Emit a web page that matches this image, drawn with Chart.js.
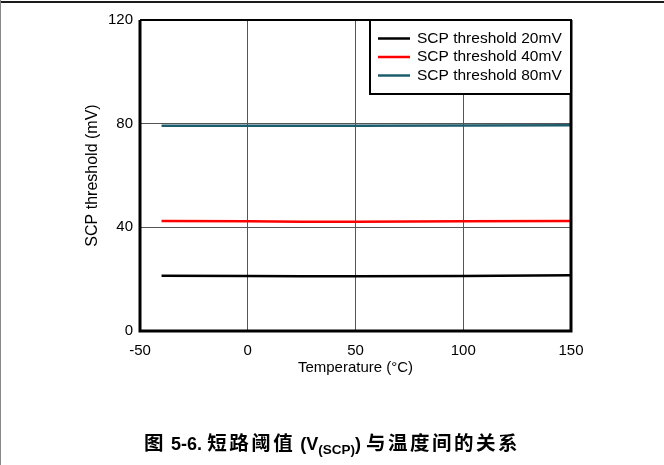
<!DOCTYPE html>
<html>
<head>
<meta charset="utf-8">
<script src="https://cdn.jsdelivr.net/npm/chart.js@4"></script>
<style>
  body { margin: 0; background: #fff; }
  #wrap { position: relative; width: 664px; height: 465px; overflow: hidden; }
  #topline { position: absolute; left: 0; top: 1px; width: 664px; height: 2px; background: #1a1a1a; }
  #leftline { position: absolute; left: 0; top: 0; width: 1px; height: 465px; background: #888; }
  #caption { position: absolute; left: 0; top: 427px; width: 664px; text-align: center; white-space: nowrap;
    font: bold 18px "Liberation Sans", Arial, "Noto Sans CJK SC", sans-serif; color: #000; }
  #caption .c { font-size: 19.5px; letter-spacing: 2.5px; }
  #caption sub { font-size: 13.5px; vertical-align: -4px; }
</style>
</head>
<body>
<div id="wrap">
  <canvas id="myChart" width="664" height="465"></canvas>
  <div id="topline"></div>
  <div id="leftline"></div>
  <div id="caption"><span class="c">图</span> 5-6. <span class="c">短路阈值</span> (V<sub>(SCP)</sub>) <span class="c">与温度间的关系</span></div>
</div>
<script>
// temperature (°C) and measured SCP threshold (mV)
var temps = [-40, 0, 25, 50, 100, 150];
var scp20 = [21.3, 21.2, 21.1, 21.1, 21.2, 21.5];
var scp40 = [42.4, 42.3, 42.2, 42.2, 42.3, 42.4];
var scp80 = [79.2, 79.2, 79.2, 79.2, 79.3, 79.4];
var labels = ['SCP threshold 20mV', 'SCP threshold 40mV', 'SCP threshold 80mV'];
var colors = ['#000000', '#ff0000', '#1d5c6c'];

function pts(ys) {
  return temps.map(function (t, i) { return { x: t, y: ys[i] }; });
}

var font = { family: '"Liberation Sans", Arial, sans-serif', size: 15 };

// frame around the plot + legend box inside top right
var framePlugin = {
  id: 'frame',
  afterDraw: function (chart) {
    var c = chart.ctx, a = chart.chartArea;
    c.save();
    c.strokeStyle = '#000';
    c.lineWidth = 3;
    c.beginPath();
    c.moveTo(a.left, a.top); c.lineTo(a.left, a.bottom); c.lineTo(a.right, a.bottom); c.lineTo(a.right, a.top);
    c.stroke();
    c.lineWidth = 2;
    c.beginPath();
    c.moveTo(a.left, a.top); c.lineTo(a.right, a.top);
    c.stroke();

    // legend
    var bx = a.right - 201, by = a.top, bw = 201, bh = 74;
    c.fillStyle = '#fff';
    c.fillRect(bx, by, bw, bh);
    c.lineWidth = 2;
    c.strokeRect(bx, by, bw, bh);
    c.font = '15.5px ' + font.family;
    c.textBaseline = 'middle';
    chart.data.datasets.forEach(function (ds, i) {
      var y = by + 18.5 + i * 18.5;
      c.strokeStyle = ds.borderColor;
      c.lineWidth = 2.5;
      c.beginPath(); c.moveTo(bx + 8, y); c.lineTo(bx + 40, y); c.stroke();
      c.fillStyle = '#000';
      c.fillText(ds.label, bx + 47, y);
    });
    c.restore();
  }
};

var ctx = document.getElementById('myChart');
var myChart = new Chart(ctx, {
  type: 'line',
  data: {
    datasets: [scp20, scp40, scp80].map(function (d, i) {
      return {
        label: labels[i],
        data: pts(d),
        borderColor: colors[i],
        borderWidth: 2.5,
        pointRadius: 0,
        tension: 0,
        fill: false
      };
    })
  },
  options: {
    responsive: false,
    animation: false,
    layout: { padding: { left: 80, right: 93, top: 20, bottom: 84 } },
    plugins: { legend: { display: false }, tooltip: { enabled: false } },
    scales: {
      x: {
        type: 'linear',
        min: -50, max: 150,
        afterFit: function (s) { s.height = 50; },
        ticks: { stepSize: 50, color: '#000', font: font, padding: 11, maxRotation: 0 },
        grid: { color: '#555', lineWidth: 1, drawTicks: false },
        border: { display: false },
        title: { display: true, text: 'Temperature (°C)', color: '#000', font: font, padding: { top: 0, bottom: 4 } }
      },
      y: {
        min: 0, max: 120,
        afterFit: function (s) { s.width = 60; },
        ticks: { stepSize: 40, color: '#000', font: font, padding: 7 },
        grid: { color: '#555', lineWidth: 1, drawTicks: false },
        border: { display: false },
        title: { display: true, text: 'SCP threshold (mV)', color: '#000', font: { family: font.family, size: 16 }, padding: { top: 3, bottom: 0 } }
      }
    }
  },
  plugins: [framePlugin]
});
</script>
</body>
</html>
